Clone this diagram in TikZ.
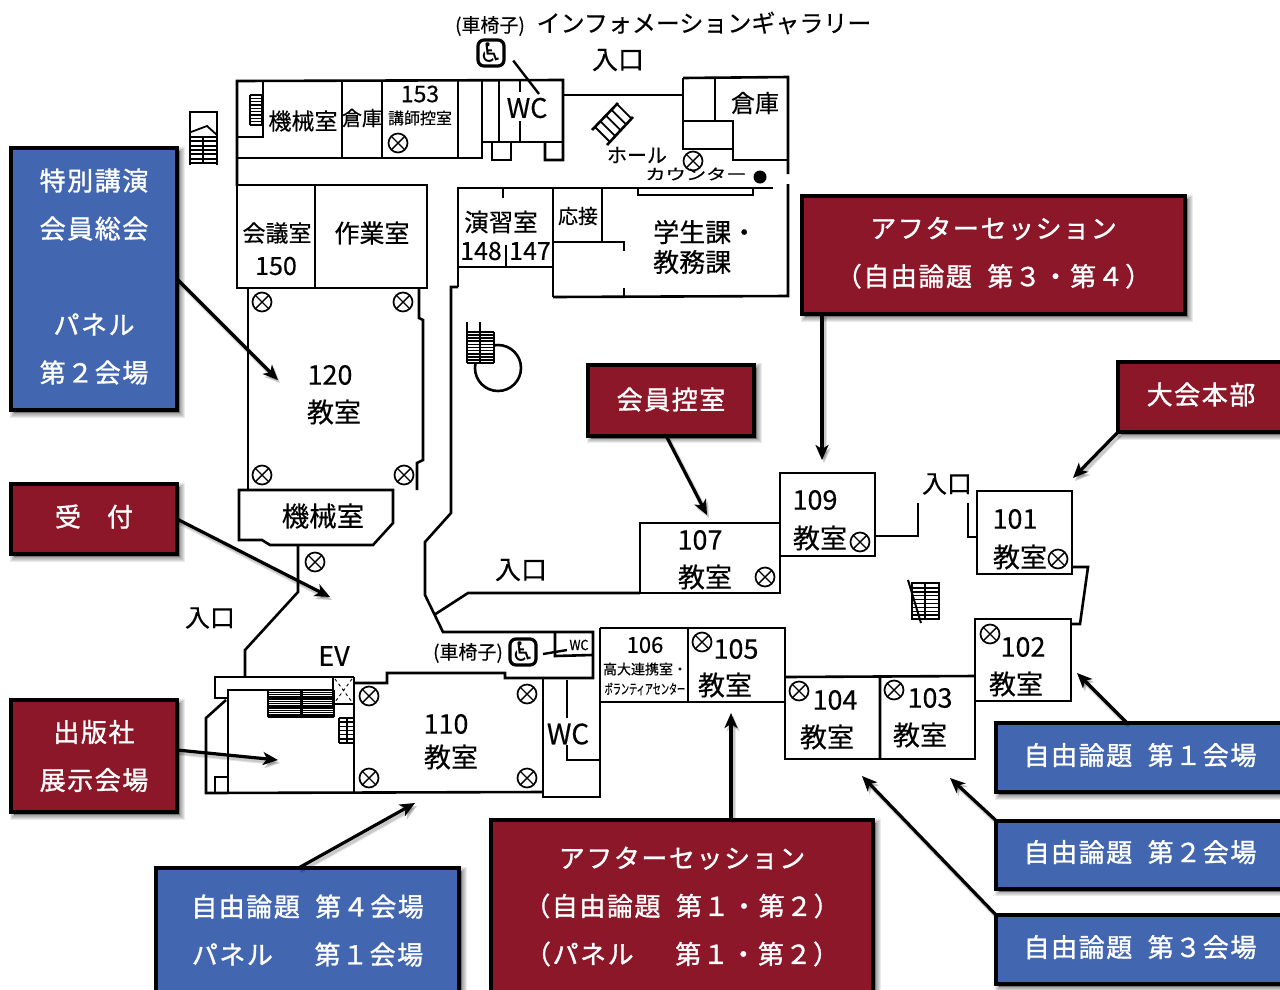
\documentclass[tikz,border=0pt]{standalone}
\usepackage{fontspec}
\usetikzlibrary{arrows.meta,calc}
\setmainfont[FakeBold=0.4]{Noto Sans CJK JP}
\newfontfamily\tagfont[FakeBold=1.2,LetterSpace=6]{Noto Sans CJK JP}
\newfontfamily\symfont{DejaVu Sans}
\definecolor{tagred}{HTML}{8B1728}
\definecolor{tagblue}{HTML}{4267B0}
\newcommand\hatchrect[6]{\foreach \i in {0,...,#5}{\pgfmathsetmacro\yy{#2+(#4-#2)*\i/#5}\draw[line width=#6] (#1,\yy)--(#3,\yy);}}
\tikzset{
  wall/.style={line width=2.6pt,line join=miter,line cap=butt},
  lb/.style={inner sep=0pt,font=\fontsize{#1}{#1}\selectfont},
  shdw/.style={preaction={draw=black,fill=black,opacity=.08,line width=#1,transform canvas={shift={(3pt,-3pt)}}}},
  tagbox/.style={shape=rectangle,draw=black,line width=4pt,outer sep=0pt,inner sep=0pt,align=center,text=white,
    font=\tagfont\fontsize{26}{48}\selectfont,shdw=9pt,shdw=7pt,shdw=5pt,shdw=3pt,shdw=1pt,
    execute at end node={\rule[-7pt]{0pt}{7pt}}},
  redtag/.style={tagbox,fill=tagred},
  bluetag/.style={tagbox,fill=tagblue},
  pointer/.style={line width=3.2pt,-{Stealth[length=15pt,width=13pt,inset=4pt]},
    preaction={draw=black,opacity=.10,line width=5pt,transform canvas={shift={(2pt,-3pt)}}},
    preaction={draw=black,opacity=.12,line width=3pt,transform canvas={shift={(2pt,-3pt)}}}},
  lamp/.pic={\draw[line width=1.7pt,fill=white] (0,0) circle (9.5);
    \draw[line width=1.4pt] (-6.7,-6.7)--(6.7,6.7) (-6.7,6.7)--(6.7,-6.7);},
  chair/.style={draw,line width=3.2pt,rounded corners=6pt,minimum size=26pt,inner sep=0pt,font=\symfont\fontsize{27}{27}\selectfont,fill=white}
}
\begin{document}
\begin{tikzpicture}[x=1pt,y=-1pt]
\useasboundingbox (0,0) rectangle (1280,989);
\clip (0,0) rectangle (1280,989);
\fill[white] (0,0) rectangle (1280,989);
% ---- walls: top block
\draw[wall] (237,186)--(237,81)--(563,80)--(563,160)--(545,160)--(545,142);
\draw[wall] (237,158)--(482,158)--(482,81);
\draw[wall] (342,81)--(342,158) (382,81)--(382,158) (458,81)--(458,158) (499,81)--(499,142);
\draw[wall] (482,142)--(563,142) (492,142)--(492,160)--(511,160)--(511,142);
\draw[wall] (520,81)--(520,92) (520,121)--(520,142);
\draw[wall] (237,137)--(263,137)--(263,82);
\draw[wall] (250,95)--(250,125) (262,95)--(262,125);
\hatchrect{250}{95}{262}{125}{9}{1.5pt}
% left stair
\draw[wall] (190,165)--(190,112)--(217,112)--(217,165);
\draw[line width=1.8pt] (191,132)--(207,126)--(217,135);
\draw[line width=1.8pt] (203,137)--(203,163);
\hatchrect{190}{137}{217}{163}{6}{1.8pt}
% hall
\draw[wall] (563,95)--(683,95);
\draw[wall] (683,78)--(788,77)--(788,174);
\draw[wall] (683,78)--(683,149)--(733,149) (715,78)--(715,121) (683,121)--(733,121)--(733,160)--(788,160);
\draw[wall] (788,184)--(788,296)--(553,297);
\draw[wall] (592,130)--(618,103) (607,145)--(633,117);
\foreach \k in {0,1,2,3,4}{\draw[line width=1.8pt] ({595+\k*5.5},{127-\k*5.7})--({610+\k*5.5},{142-\k*5.7});}
% row 2
\draw[wall] (237,186)--(237,288)--(427,288)--(427,185)--(237,185);
\draw[wall] (315,186)--(315,288);
\draw[wall] (458,287)--(458,188)--(773,188);
\draw[wall] (638,188)--(638,195)--(753,195)--(753,188);
\draw[wall] (553,188)--(553,297) (503,188)--(503,198) (458,267)--(553,267) (506,245)--(506,267);
\draw[wall] (602,188)--(602,242) (553,242)--(624,242)--(624,251) (624,288)--(624,297);
% 120
\draw[wall] (248,289)--(248,490);
\draw[wall] (419,289)--(419,318)--(423,320)--(423,460)--(417,463)--(417,490);
% machine room
\draw[wall] (239,490)--(393,490)--(393,523)--(373,545)--(270,545)--(262,540)--(239,540)--cycle;
% corridor
\draw[wall] (298,545)--(298,592)--(245,650)--(245,677);
\draw[wall] (458,287)--(451,287)--(451,513)--(425,542)--(425,595)--(443,632)--(593,632)--(593,678)--(505,678)--(505,673)--(387,673)--(387,683)--(354,683);
\draw[wall] (434,615)--(468,593)--(640,593);
% lower left
\draw[wall] (354,677)--(215,677)--(215,698)--(228,698);
\draw[wall] (333,690)--(228,690)--(228,793);
\draw[wall] (226,700)--(206,718)--(206,793)--(543,792);
\draw[wall] (215,793)--(215,777)--(228,777);
\draw[wall] (333,677)--(333,704)--(354,704)--(354,677);
\draw[wall] (354,677)--(354,793);
\draw[line width=.9pt,dashed] (335,679)--(352,702) (352,679)--(335,702);
\draw[line width=1.8pt] (268,690)--(268,717) (334,690)--(334,717);
\draw[line width=3pt] (301,690)--(301,717);
\hatchrect{268}{690}{334}{717}{12}{1.5pt}
\draw[line width=1.7pt] (339,718)--(339,743) (347,718)--(347,743);
\hatchrect{339}{718}{354}{743}{6}{1.6pt}
% WC lower
\draw[wall] (543,678)--(543,797)--(600,797)--(600,628);
\draw[wall] (567,680)--(567,718) (567,745)--(567,760)--(600,760);
\draw[wall] (555,632)--(555,656)--(592,655);
% rooms right
\draw[wall] (640,593)--(640,523)--(780,523);
\draw[wall] (640,593)--(780,593)--(780,473)--(875,473)--(875,556)--(780,556);
\draw[wall] (875,536)--(918,536)--(918,503);
\draw[wall] (968,503)--(968,537)--(977,537);
\draw[wall] (977,491)--(1072,491)--(1072,574)--(977,574)--cycle;
\draw[wall] (1072,567)--(1088,567)--(1080,624)--(1071,624);
\draw[wall] (600,628)--(785,628)--(785,759)--(975,759)--(975,619)--(1071,619)--(1071,701)--(975,701);
\draw[wall] (688,628)--(688,702) (600,702)--(785,702);
\draw[wall] (785,677)--(975,676) (880,677)--(880,759);
% stairs centre right
\draw[line width=1.8pt] (912,583)--(939,583)--(939,619)--(912,619)--cycle;
\draw[line width=1.8pt] (925,583)--(925,619);
\hatchrect{912}{588}{939}{619}{8}{1.4pt}
\draw[line width=2pt] (908,580)--(921,623);
% spiral stair
\draw[wall] (498,368) circle (23);
\fill[white] (467,322) rectangle (494,363);
\draw[line width=1.8pt] (467,322)--(467,363) (480,322)--(480,363) (494,332)--(494,363);
\hatchrect{467}{332}{494}{363}{10}{1.7pt}
% ---- lamps
\foreach \p in {(398,143),(693,161),(262,302),(403,302),(262,475),(404,475),(315,562),(369,696),(527,694),(369,778),(527,778),(765,577),(860,542),(1058,559),(702,642),(799,691),(894,690),(990,634)}{\pic at \p {lamp};}
\fill (760,177) circle (6.5);
% ---- plan labels
\node[lb=23] (tmach) at (303,121) {機械室};
\node[lb=20] (tsoko) at (362,118) {倉庫};
\node[lb=23] (t153) at (420,94) {153};
\node[lb=16] (tkoshi) at (420,118) {講師控室};
\node[lb=27] (twc) at (527,108) {WC};
\node[lb=24] (tsoko2) at (755,103) {倉庫};
\node[lb=20] (thall) at (637,155) {ホール};
\node[lb=15,xscale=1.35] (tcount) at (696,174) {カウンター};
\node[lb=24.5] (tenshu) at (501,222) {演習室};
\node[lb=25] (t148) at (481,251) {148};
\node[lb=25] (t147) at (530,251) {147};
\node[lb=20] (toset) at (578,216) {応接};
\node[lb=26,anchor=west] (tgaku) at (653,232) {学生課・};
\node[lb=26,anchor=west] (tkyomu) at (653,262) {教務課};
\node[lb=23] (tkaigi) at (277,233) {会議室};
\node[lb=25] (t150) at (276,266) {150};
\node[lb=25] (tsagyo) at (372,233) {作業室};
\node[lb=27] (t120) at (330,375) {120};
\node[lb=27] (tk120) at (334,412) {教室};
\node[lb=27.5] (tmach2) at (323,516) {機械室};
\node[lb=26] (tin1) at (618,60) {入口};
\node[lb=25] (tin2) at (947,484) {入口};
\node[lb=26] (tin3) at (521,570) {入口};
\node[lb=25] (tin4) at (210,618) {入口};
\node[lb=19] (tisu1) at (490,26) {(車椅子)};
\node[lb=24] (tinfo) at (704,23) {インフォメーションギャラリー};
\node[lb=27] (tev) at (334,656) {EV};
\node[lb=19] (tisu2) at (468,653) {(車椅子)};
\node[lb=14,xscale=.9] (twc3) at (579,645) {WC};
\node[lb=28] (twc2) at (568,734) {WC};
\node[lb=27] (t110) at (446,724) {110};
\node[lb=27] (tk110) at (451,757) {教室};
\node[lb=27] (t109) at (815,500) {109};
\node[lb=27] (tk109) at (820,538) {教室};
\node[lb=27] (t107) at (700,540) {107};
\node[lb=27] (tk107) at (705,577) {教室};
\node[lb=27] (t101) at (1015,519) {101};
\node[lb=27] (tk101) at (1020,557) {教室};
\node[lb=27] (t102) at (1023,647) {102};
\node[lb=27] (tk102) at (1016,684) {教室};
\node[lb=27] (t103) at (930,698) {103};
\node[lb=27] (tk103) at (920,735) {教室};
\node[lb=27] (t104) at (835,700) {104};
\node[lb=27] (tk104) at (827,737) {教室};
\node[lb=27] (t105) at (736,649) {105};
\node[lb=27] (tk105) at (725,685) {教室};
\node[lb=22] (t106) at (645,645) {106};
\node[lb=14] (tkodai) at (645,669) {高大連携室・};
\node[lb=14,xscale=.58] (tvol) at (645,689) {ボランティアセンター};
% wheelchair icons
\node[chair] (chairA) at (491,53) {♿};
\node[chair] (chairB) at (523,652) {♿};
\coordinate (wcA) at (539,94);
\coordinate (wcB) at (567,650);
\draw[line width=2.4pt,shorten <=2pt] ($(chairA)+(21,6)$)--(wcA);
\draw[line width=2.4pt] ($(chairB)+(20,2)$)--(wcB);
% ---- tags
\node[bluetag,minimum width=166pt,minimum height=262pt] (sp) at (94,279) {特別講演\\会員総会\\ \\パネル\\第２会場};
\node[redtag,minimum width=166pt,minimum height=70pt] (uke) at (94,519) {受\hspace{26pt}付};
\node[redtag,minimum width=166pt,minimum height=112pt] (pub) at (94,756) {\raisebox{-6pt}{\parbox{160pt}{\centering 出版社\\展示会場}}};
\node[redtag,minimum width=166pt,minimum height=71pt] (kaiin) at (671,400) {\raisebox{-4pt}{会員控室}};
\node[redtag,minimum width=383pt,minimum height=118pt] (aft2) at (993.5,255) {アフターセッション\\（自由論題 \hspace{8pt}第３・第４）};
\node[redtag,minimum width=166pt,minimum height=70pt] (honbu) at (1201,397) {大会本部};
\node[bluetag,minimum width=288pt,minimum height=69pt] (fr1) at (1140,757.5) {自由論題 \hspace{8pt}第１会場};
\node[bluetag,minimum width=288pt,minimum height=68pt] (fr2) at (1140,854.5) {自由論題 \hspace{8pt}第２会場};
\node[bluetag,minimum width=288pt,minimum height=69pt] (fr3) at (1140,949.5) {自由論題 \hspace{8pt}第３会場};
\node[bluetag,minimum width=303pt,minimum height=125pt] (fr4) at (307.5,930.5) {\raisebox{6pt}{\parbox{300pt}{\centering 自由論題 \hspace{8pt}第４会場\\パネル　\hspace{14pt}第１会場}}};
\node[redtag,minimum width=382pt,minimum height=173pt] (aft1) at (682,906.5) {\raisebox{12pt}{\parbox{380pt}{\centering アフターセッション\\（自由論題 \hspace{8pt}第１・第２）\\（パネル　\hspace{14pt}第１・第２）}}};
% ---- pointers
\coordinate (pA) at (278,380);
\coordinate (pB) at (330,597);
\coordinate (pC) at (278,760);
\coordinate (pD) at (415,803);
\coordinate (pE) at (731,713);
\coordinate (pF) at (707,515);
\coordinate (pG) at (822,460);
\coordinate (pH) at (1073,478);
\coordinate (pI) at (1077,673);
\coordinate (pJ) at (950,778);
\coordinate (pK) at (862,776);
\draw[pointer] (sp.east)--(pA);
\draw[pointer] (uke.east)--(pB);
\draw[pointer] ([yshift=6pt]pub.east)--(pC);
\draw[pointer] ([xshift=-9pt]fr4.north)--(pD);
\draw[pointer] (pE |- aft1.north)--(pE);
\draw[pointer] ([xshift=-5pt]kaiin.south)--(pF);
\draw[pointer] (pG |- aft2.south)--(pG);
\draw[pointer] (honbu.south west)--(pH);
\draw[pointer] ([xshift=-13pt]fr1.north)--(pI);
\draw[pointer] (fr2.north west)--(pJ);
\draw[pointer] (fr3.north west)--(pK);
\end{tikzpicture}
\end{document}
